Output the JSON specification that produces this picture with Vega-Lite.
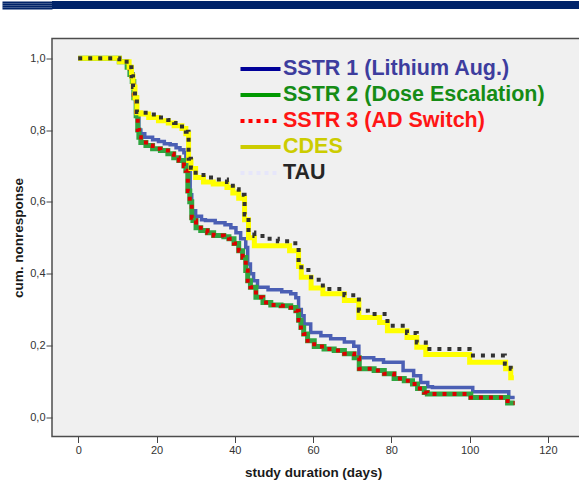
{
  "$schema": "https://vega.github.io/schema/vega-lite/v6.json",
  "padding": 0,
  "background": "white",
  "spacing": 27.5,
  "columns": 1,
  "align": "none",
  "config": {"font": "Liberation Sans"},
  "datasets": {
    "km": [
      {"series": "SSTR 1 (Lithium Aug.)", "day": 0, "value": 1.0},
      {"series": "SSTR 1 (Lithium Aug.)", "day": 10.5, "value": 0.99},
      {"series": "SSTR 1 (Lithium Aug.)", "day": 12.5, "value": 0.975},
      {"series": "SSTR 1 (Lithium Aug.)", "day": 13.2, "value": 0.955},
      {"series": "SSTR 1 (Lithium Aug.)", "day": 13.8, "value": 0.935},
      {"series": "SSTR 1 (Lithium Aug.)", "day": 14.2, "value": 0.89},
      {"series": "SSTR 1 (Lithium Aug.)", "day": 14.8, "value": 0.845},
      {"series": "SSTR 1 (Lithium Aug.)", "day": 15.5, "value": 0.8},
      {"series": "SSTR 1 (Lithium Aug.)", "day": 16, "value": 0.79},
      {"series": "SSTR 1 (Lithium Aug.)", "day": 17, "value": 0.78},
      {"series": "SSTR 1 (Lithium Aug.)", "day": 19, "value": 0.773},
      {"series": "SSTR 1 (Lithium Aug.)", "day": 20.5, "value": 0.768},
      {"series": "SSTR 1 (Lithium Aug.)", "day": 22, "value": 0.762},
      {"series": "SSTR 1 (Lithium Aug.)", "day": 23.5, "value": 0.759},
      {"series": "SSTR 1 (Lithium Aug.)", "day": 25, "value": 0.751},
      {"series": "SSTR 1 (Lithium Aug.)", "day": 26, "value": 0.745},
      {"series": "SSTR 1 (Lithium Aug.)", "day": 27, "value": 0.737},
      {"series": "SSTR 1 (Lithium Aug.)", "day": 27.5, "value": 0.723},
      {"series": "SSTR 1 (Lithium Aug.)", "day": 28, "value": 0.706},
      {"series": "SSTR 1 (Lithium Aug.)", "day": 28.3, "value": 0.69},
      {"series": "SSTR 1 (Lithium Aug.)", "day": 28.6, "value": 0.62},
      {"series": "SSTR 1 (Lithium Aug.)", "day": 29, "value": 0.575},
      {"series": "SSTR 1 (Lithium Aug.)", "day": 30, "value": 0.56},
      {"series": "SSTR 1 (Lithium Aug.)", "day": 31.5, "value": 0.55},
      {"series": "SSTR 1 (Lithium Aug.)", "day": 32.5, "value": 0.548},
      {"series": "SSTR 1 (Lithium Aug.)", "day": 35, "value": 0.542},
      {"series": "SSTR 1 (Lithium Aug.)", "day": 37.5, "value": 0.536},
      {"series": "SSTR 1 (Lithium Aug.)", "day": 39, "value": 0.528},
      {"series": "SSTR 1 (Lithium Aug.)", "day": 40.3, "value": 0.514},
      {"series": "SSTR 1 (Lithium Aug.)", "day": 41.5, "value": 0.497},
      {"series": "SSTR 1 (Lithium Aug.)", "day": 42.8, "value": 0.473},
      {"series": "SSTR 1 (Lithium Aug.)", "day": 43.3, "value": 0.427},
      {"series": "SSTR 1 (Lithium Aug.)", "day": 44, "value": 0.4},
      {"series": "SSTR 1 (Lithium Aug.)", "day": 44.8, "value": 0.38},
      {"series": "SSTR 1 (Lithium Aug.)", "day": 45.8, "value": 0.362},
      {"series": "SSTR 1 (Lithium Aug.)", "day": 48.5, "value": 0.355},
      {"series": "SSTR 1 (Lithium Aug.)", "day": 52, "value": 0.35},
      {"series": "SSTR 1 (Lithium Aug.)", "day": 54.3, "value": 0.344},
      {"series": "SSTR 1 (Lithium Aug.)", "day": 55.6, "value": 0.333},
      {"series": "SSTR 1 (Lithium Aug.)", "day": 56.3, "value": 0.3},
      {"series": "SSTR 1 (Lithium Aug.)", "day": 57, "value": 0.283},
      {"series": "SSTR 1 (Lithium Aug.)", "day": 57.7, "value": 0.26},
      {"series": "SSTR 1 (Lithium Aug.)", "day": 59.4, "value": 0.236},
      {"series": "SSTR 1 (Lithium Aug.)", "day": 62, "value": 0.227},
      {"series": "SSTR 1 (Lithium Aug.)", "day": 64.5, "value": 0.219},
      {"series": "SSTR 1 (Lithium Aug.)", "day": 68, "value": 0.21},
      {"series": "SSTR 1 (Lithium Aug.)", "day": 70.4, "value": 0.198},
      {"series": "SSTR 1 (Lithium Aug.)", "day": 71.7, "value": 0.166},
      {"series": "SSTR 1 (Lithium Aug.)", "day": 75.5, "value": 0.16},
      {"series": "SSTR 1 (Lithium Aug.)", "day": 78, "value": 0.153},
      {"series": "SSTR 1 (Lithium Aug.)", "day": 83, "value": 0.13},
      {"series": "SSTR 1 (Lithium Aug.)", "day": 85.7, "value": 0.116},
      {"series": "SSTR 1 (Lithium Aug.)", "day": 87.5, "value": 0.097},
      {"series": "SSTR 1 (Lithium Aug.)", "day": 89.3, "value": 0.085},
      {"series": "SSTR 1 (Lithium Aug.)", "day": 90.5, "value": 0.083},
      {"series": "SSTR 1 (Lithium Aug.)", "day": 100.8, "value": 0.071},
      {"series": "SSTR 1 (Lithium Aug.)", "day": 110, "value": 0.055},
      {"series": "SSTR 1 (Lithium Aug.)", "day": 111.5, "value": 0.055},

      {"series": "SSTR 2 (Dose Escalation)", "day": 0, "value": 1.0},
      {"series": "SSTR 2 (Dose Escalation)", "day": 10.5, "value": 0.99},
      {"series": "SSTR 2 (Dose Escalation)", "day": 12.5, "value": 0.975},
      {"series": "SSTR 2 (Dose Escalation)", "day": 13.2, "value": 0.955},
      {"series": "SSTR 2 (Dose Escalation)", "day": 13.8, "value": 0.935},
      {"series": "SSTR 2 (Dose Escalation)", "day": 14.2, "value": 0.89},
      {"series": "SSTR 2 (Dose Escalation)", "day": 14.8, "value": 0.84},
      {"series": "SSTR 2 (Dose Escalation)", "day": 15.2, "value": 0.8},
      {"series": "SSTR 2 (Dose Escalation)", "day": 15.5, "value": 0.78},
      {"series": "SSTR 2 (Dose Escalation)", "day": 16, "value": 0.765},
      {"series": "SSTR 2 (Dose Escalation)", "day": 17.3, "value": 0.757},
      {"series": "SSTR 2 (Dose Escalation)", "day": 19, "value": 0.748},
      {"series": "SSTR 2 (Dose Escalation)", "day": 21, "value": 0.743},
      {"series": "SSTR 2 (Dose Escalation)", "day": 22.9, "value": 0.734},
      {"series": "SSTR 2 (Dose Escalation)", "day": 24.4, "value": 0.723},
      {"series": "SSTR 2 (Dose Escalation)", "day": 25.7, "value": 0.715},
      {"series": "SSTR 2 (Dose Escalation)", "day": 27, "value": 0.7},
      {"series": "SSTR 2 (Dose Escalation)", "day": 27.5, "value": 0.687},
      {"series": "SSTR 2 (Dose Escalation)", "day": 28, "value": 0.63},
      {"series": "SSTR 2 (Dose Escalation)", "day": 28.5, "value": 0.6},
      {"series": "SSTR 2 (Dose Escalation)", "day": 29, "value": 0.556},
      {"series": "SSTR 2 (Dose Escalation)", "day": 29.3, "value": 0.548},
      {"series": "SSTR 2 (Dose Escalation)", "day": 30.1, "value": 0.528},
      {"series": "SSTR 2 (Dose Escalation)", "day": 31.3, "value": 0.52},
      {"series": "SSTR 2 (Dose Escalation)", "day": 33, "value": 0.514},
      {"series": "SSTR 2 (Dose Escalation)", "day": 34.6, "value": 0.506},
      {"series": "SSTR 2 (Dose Escalation)", "day": 37.2, "value": 0.503},
      {"series": "SSTR 2 (Dose Escalation)", "day": 38.5, "value": 0.497},
      {"series": "SSTR 2 (Dose Escalation)", "day": 39.8, "value": 0.484},
      {"series": "SSTR 2 (Dose Escalation)", "day": 41, "value": 0.464},
      {"series": "SSTR 2 (Dose Escalation)", "day": 42, "value": 0.445},
      {"series": "SSTR 2 (Dose Escalation)", "day": 42.8, "value": 0.409},
      {"series": "SSTR 2 (Dose Escalation)", "day": 43.3, "value": 0.38},
      {"series": "SSTR 2 (Dose Escalation)", "day": 44, "value": 0.362},
      {"series": "SSTR 2 (Dose Escalation)", "day": 45.4, "value": 0.334},
      {"series": "SSTR 2 (Dose Escalation)", "day": 47.2, "value": 0.32},
      {"series": "SSTR 2 (Dose Escalation)", "day": 49.2, "value": 0.313},
      {"series": "SSTR 2 (Dose Escalation)", "day": 51.8, "value": 0.311},
      {"series": "SSTR 2 (Dose Escalation)", "day": 54.3, "value": 0.306},
      {"series": "SSTR 2 (Dose Escalation)", "day": 55.6, "value": 0.297},
      {"series": "SSTR 2 (Dose Escalation)", "day": 56.3, "value": 0.27},
      {"series": "SSTR 2 (Dose Escalation)", "day": 56.9, "value": 0.25},
      {"series": "SSTR 2 (Dose Escalation)", "day": 57.6, "value": 0.232},
      {"series": "SSTR 2 (Dose Escalation)", "day": 58.6, "value": 0.213},
      {"series": "SSTR 2 (Dose Escalation)", "day": 60.3, "value": 0.197},
      {"series": "SSTR 2 (Dose Escalation)", "day": 62.8, "value": 0.19},
      {"series": "SSTR 2 (Dose Escalation)", "day": 65.4, "value": 0.186},
      {"series": "SSTR 2 (Dose Escalation)", "day": 68, "value": 0.177},
      {"series": "SSTR 2 (Dose Escalation)", "day": 70.5, "value": 0.166},
      {"series": "SSTR 2 (Dose Escalation)", "day": 71.8, "value": 0.135},
      {"series": "SSTR 2 (Dose Escalation)", "day": 75.6, "value": 0.13},
      {"series": "SSTR 2 (Dose Escalation)", "day": 78.2, "value": 0.121},
      {"series": "SSTR 2 (Dose Escalation)", "day": 80.7, "value": 0.108},
      {"series": "SSTR 2 (Dose Escalation)", "day": 83.3, "value": 0.102},
      {"series": "SSTR 2 (Dose Escalation)", "day": 85.4, "value": 0.093},
      {"series": "SSTR 2 (Dose Escalation)", "day": 86.7, "value": 0.08},
      {"series": "SSTR 2 (Dose Escalation)", "day": 88.4, "value": 0.069},
      {"series": "SSTR 2 (Dose Escalation)", "day": 89.2, "value": 0.065},
      {"series": "SSTR 2 (Dose Escalation)", "day": 100.3, "value": 0.055},
      {"series": "SSTR 2 (Dose Escalation)", "day": 109.7, "value": 0.04},
      {"series": "SSTR 2 (Dose Escalation)", "day": 111.5, "value": 0.04},

      {"series": "SSTR 3 (AD Switch)", "day": 0, "value": 1.0},
      {"series": "SSTR 3 (AD Switch)", "day": 10.5, "value": 0.99},
      {"series": "SSTR 3 (AD Switch)", "day": 12.5, "value": 0.975},
      {"series": "SSTR 3 (AD Switch)", "day": 13.2, "value": 0.955},
      {"series": "SSTR 3 (AD Switch)", "day": 13.8, "value": 0.935},
      {"series": "SSTR 3 (AD Switch)", "day": 14.2, "value": 0.89},
      {"series": "SSTR 3 (AD Switch)", "day": 14.8, "value": 0.84},
      {"series": "SSTR 3 (AD Switch)", "day": 15.2, "value": 0.8},
      {"series": "SSTR 3 (AD Switch)", "day": 15.5, "value": 0.78},
      {"series": "SSTR 3 (AD Switch)", "day": 16, "value": 0.765},
      {"series": "SSTR 3 (AD Switch)", "day": 17.3, "value": 0.757},
      {"series": "SSTR 3 (AD Switch)", "day": 19, "value": 0.748},
      {"series": "SSTR 3 (AD Switch)", "day": 21, "value": 0.743},
      {"series": "SSTR 3 (AD Switch)", "day": 22.9, "value": 0.734},
      {"series": "SSTR 3 (AD Switch)", "day": 24.4, "value": 0.723},
      {"series": "SSTR 3 (AD Switch)", "day": 25.7, "value": 0.715},
      {"series": "SSTR 3 (AD Switch)", "day": 27, "value": 0.7},
      {"series": "SSTR 3 (AD Switch)", "day": 27.5, "value": 0.687},
      {"series": "SSTR 3 (AD Switch)", "day": 28, "value": 0.63},
      {"series": "SSTR 3 (AD Switch)", "day": 28.5, "value": 0.6},
      {"series": "SSTR 3 (AD Switch)", "day": 29, "value": 0.556},
      {"series": "SSTR 3 (AD Switch)", "day": 29.3, "value": 0.548},
      {"series": "SSTR 3 (AD Switch)", "day": 30.1, "value": 0.528},
      {"series": "SSTR 3 (AD Switch)", "day": 31.3, "value": 0.52},
      {"series": "SSTR 3 (AD Switch)", "day": 33, "value": 0.514},
      {"series": "SSTR 3 (AD Switch)", "day": 34.6, "value": 0.506},
      {"series": "SSTR 3 (AD Switch)", "day": 37.2, "value": 0.503},
      {"series": "SSTR 3 (AD Switch)", "day": 38.5, "value": 0.497},
      {"series": "SSTR 3 (AD Switch)", "day": 39.8, "value": 0.484},
      {"series": "SSTR 3 (AD Switch)", "day": 41, "value": 0.464},
      {"series": "SSTR 3 (AD Switch)", "day": 42, "value": 0.445},
      {"series": "SSTR 3 (AD Switch)", "day": 42.8, "value": 0.409},
      {"series": "SSTR 3 (AD Switch)", "day": 43.3, "value": 0.38},
      {"series": "SSTR 3 (AD Switch)", "day": 44, "value": 0.362},
      {"series": "SSTR 3 (AD Switch)", "day": 45.4, "value": 0.334},
      {"series": "SSTR 3 (AD Switch)", "day": 47.2, "value": 0.32},
      {"series": "SSTR 3 (AD Switch)", "day": 49.2, "value": 0.313},
      {"series": "SSTR 3 (AD Switch)", "day": 51.8, "value": 0.311},
      {"series": "SSTR 3 (AD Switch)", "day": 54.3, "value": 0.306},
      {"series": "SSTR 3 (AD Switch)", "day": 55.6, "value": 0.297},
      {"series": "SSTR 3 (AD Switch)", "day": 56.3, "value": 0.27},
      {"series": "SSTR 3 (AD Switch)", "day": 56.9, "value": 0.25},
      {"series": "SSTR 3 (AD Switch)", "day": 57.6, "value": 0.232},
      {"series": "SSTR 3 (AD Switch)", "day": 58.6, "value": 0.213},
      {"series": "SSTR 3 (AD Switch)", "day": 60.3, "value": 0.197},
      {"series": "SSTR 3 (AD Switch)", "day": 62.8, "value": 0.19},
      {"series": "SSTR 3 (AD Switch)", "day": 65.4, "value": 0.186},
      {"series": "SSTR 3 (AD Switch)", "day": 68, "value": 0.177},
      {"series": "SSTR 3 (AD Switch)", "day": 70.5, "value": 0.166},
      {"series": "SSTR 3 (AD Switch)", "day": 71.8, "value": 0.135},
      {"series": "SSTR 3 (AD Switch)", "day": 75.6, "value": 0.13},
      {"series": "SSTR 3 (AD Switch)", "day": 78.2, "value": 0.121},
      {"series": "SSTR 3 (AD Switch)", "day": 80.7, "value": 0.108},
      {"series": "SSTR 3 (AD Switch)", "day": 83.3, "value": 0.102},
      {"series": "SSTR 3 (AD Switch)", "day": 85.4, "value": 0.093},
      {"series": "SSTR 3 (AD Switch)", "day": 86.7, "value": 0.08},
      {"series": "SSTR 3 (AD Switch)", "day": 88.4, "value": 0.069},
      {"series": "SSTR 3 (AD Switch)", "day": 89.2, "value": 0.065},
      {"series": "SSTR 3 (AD Switch)", "day": 100.3, "value": 0.055},
      {"series": "SSTR 3 (AD Switch)", "day": 109.7, "value": 0.04},
      {"series": "SSTR 3 (AD Switch)", "day": 111.5, "value": 0.04},

      {"series": "CDES", "day": 0, "value": 1.0},
      {"series": "CDES", "day": 10.5, "value": 0.99},
      {"series": "CDES", "day": 13, "value": 0.975},
      {"series": "CDES", "day": 13.6, "value": 0.95},
      {"series": "CDES", "day": 14, "value": 0.92},
      {"series": "CDES", "day": 14.5, "value": 0.89},
      {"series": "CDES", "day": 15, "value": 0.848},
      {"series": "CDES", "day": 16, "value": 0.845},
      {"series": "CDES", "day": 18, "value": 0.835},
      {"series": "CDES", "day": 20.5, "value": 0.826},
      {"series": "CDES", "day": 23, "value": 0.82},
      {"series": "CDES", "day": 24.5, "value": 0.812},
      {"series": "CDES", "day": 26.5, "value": 0.804},
      {"series": "CDES", "day": 27.5, "value": 0.79},
      {"series": "CDES", "day": 28.2, "value": 0.715},
      {"series": "CDES", "day": 28.8, "value": 0.693},
      {"series": "CDES", "day": 30, "value": 0.668},
      {"series": "CDES", "day": 32, "value": 0.655},
      {"series": "CDES", "day": 34.5, "value": 0.65},
      {"series": "CDES", "day": 38, "value": 0.64},
      {"series": "CDES", "day": 39.5, "value": 0.625},
      {"series": "CDES", "day": 41, "value": 0.61},
      {"series": "CDES", "day": 42.5, "value": 0.55},
      {"series": "CDES", "day": 43.5, "value": 0.5},
      {"series": "CDES", "day": 45, "value": 0.478},
      {"series": "CDES", "day": 54, "value": 0.464},
      {"series": "CDES", "day": 56.3, "value": 0.42},
      {"series": "CDES", "day": 57, "value": 0.39},
      {"series": "CDES", "day": 59.5, "value": 0.36},
      {"series": "CDES", "day": 62.5, "value": 0.344},
      {"series": "CDES", "day": 68, "value": 0.325},
      {"series": "CDES", "day": 71.7, "value": 0.278},
      {"series": "CDES", "day": 77, "value": 0.264},
      {"series": "CDES", "day": 79, "value": 0.241},
      {"series": "CDES", "day": 84, "value": 0.222},
      {"series": "CDES", "day": 86.5, "value": 0.195},
      {"series": "CDES", "day": 88.8, "value": 0.175},
      {"series": "CDES", "day": 100, "value": 0.153},
      {"series": "CDES", "day": 109.2, "value": 0.135},
      {"series": "CDES", "day": 110.5, "value": 0.11},
      {"series": "CDES", "day": 111.3, "value": 0.11},

      {"series": "TAU", "day": 0, "value": 1.0},
      {"series": "TAU", "day": 10.5, "value": 0.99},
      {"series": "TAU", "day": 13, "value": 0.975},
      {"series": "TAU", "day": 13.6, "value": 0.95},
      {"series": "TAU", "day": 14, "value": 0.92},
      {"series": "TAU", "day": 14.5, "value": 0.89},
      {"series": "TAU", "day": 15, "value": 0.85},
      {"series": "TAU", "day": 16, "value": 0.848},
      {"series": "TAU", "day": 18, "value": 0.843},
      {"series": "TAU", "day": 20.5, "value": 0.835},
      {"series": "TAU", "day": 23, "value": 0.828},
      {"series": "TAU", "day": 24.5, "value": 0.82},
      {"series": "TAU", "day": 26.5, "value": 0.81},
      {"series": "TAU", "day": 27.5, "value": 0.795},
      {"series": "TAU", "day": 28.2, "value": 0.72},
      {"series": "TAU", "day": 28.8, "value": 0.695},
      {"series": "TAU", "day": 30, "value": 0.675},
      {"series": "TAU", "day": 32, "value": 0.668},
      {"series": "TAU", "day": 34.5, "value": 0.662},
      {"series": "TAU", "day": 38, "value": 0.655},
      {"series": "TAU", "day": 39.5, "value": 0.635},
      {"series": "TAU", "day": 41, "value": 0.62},
      {"series": "TAU", "day": 42.5, "value": 0.565},
      {"series": "TAU", "day": 43.5, "value": 0.515},
      {"series": "TAU", "day": 45, "value": 0.505},
      {"series": "TAU", "day": 48, "value": 0.497},
      {"series": "TAU", "day": 51, "value": 0.49},
      {"series": "TAU", "day": 54, "value": 0.485},
      {"series": "TAU", "day": 56.3, "value": 0.43},
      {"series": "TAU", "day": 57, "value": 0.41},
      {"series": "TAU", "day": 59.5, "value": 0.383},
      {"series": "TAU", "day": 62.5, "value": 0.357},
      {"series": "TAU", "day": 68, "value": 0.34},
      {"series": "TAU", "day": 71.7, "value": 0.297},
      {"series": "TAU", "day": 74, "value": 0.288},
      {"series": "TAU", "day": 79, "value": 0.255},
      {"series": "TAU", "day": 84, "value": 0.235},
      {"series": "TAU", "day": 86.5, "value": 0.208},
      {"series": "TAU", "day": 88.8, "value": 0.19},
      {"series": "TAU", "day": 100, "value": 0.172},
      {"series": "TAU", "day": 109, "value": 0.149},
      {"series": "TAU", "day": 110.5, "value": 0.135},
      {"series": "TAU", "day": 111.5, "value": 0.135}
    ]
  },
  "concat": [
    {
      "width": 528,
      "height": 8,
      "data": {"values": [{}]},
      "view": {"fill": "#002369", "stroke": null},
      "mark": {"type": "rect", "color": "#002369"},
      "encoding": {
        "y": {
          "datum": 0, "type": "quantitative",
          "scale": {"domain": [0, 1], "nice": false, "zero": false},
          "axis": {
            "values": [0.14, 0.38, 0.62, 0.86], "labels": false, "domain": false, "grid": false, "title": null,
            "ticks": true, "tickSize": 50, "tickWidth": 2.1, "tickColor": "#002369", "tickCap": "butt"
          }
        },
        "y2": {"datum": 1}
      }
    },
    {
      "width": 528,
      "height": 398,
      "view": {"fill": "#f0f0f0", "stroke": "#4d4d4d", "strokeWidth": 1.5, "strokeDash": [528, 398, 926, 10]},
      "data": {"name": "km"},
      "encoding": {
        "x": {
          "field": "day", "type": "quantitative",
          "scale": {"domain": [-6.7, 128.2], "nice": false, "zero": false},
          "axis": {
            "title": "study duration (days)",
            "values": [0, 20, 40, 60, 80, 100, 120],
            "grid": false, "domain": false,
            "tickSize": 6, "tickColor": "#444444",
            "labelPadding": 2, "labelFontSize": 11, "labelColor": "#333333", "labelFlush": false,
            "titleFontSize": 13.5, "titleFontWeight": "bold", "titleColor": "#1a1a1a",
            "titlePadding": 10, "titleX": 261
          }
        },
        "y": {
          "field": "value", "type": "quantitative",
          "scale": {"domain": [-0.0535, 1.055], "nice": false, "zero": false},
          "axis": {
            "title": "cum. nonresponse",
            "values": [0, 0.2, 0.4, 0.6, 0.8, 1.0],
            "labelExpr": "replace(format(datum.value, '.1f'), '.', ',')",
            "grid": false, "domain": false,
            "tickSize": 6, "tickColor": "#444444",
            "labelPadding": 1, "labelFontSize": 11, "labelColor": "#333333",
            "titleFontSize": 13.5, "titleFontWeight": "bold", "titleColor": "#1a1a1a",
            "titlePadding": 4
          }
        },
        "order": {"field": "day", "type": "quantitative"}
      },
      "layer": [
        {
          "mark": {"type": "line", "interpolate": "step-after", "strokeWidth": 0.3},
          "encoding": {
            "color": {
              "field": "series", "type": "nominal",
              "scale": {
                "domain": ["SSTR 1 (Lithium Aug.)", "SSTR 2 (Dose Escalation)", "SSTR 3 (AD Switch)", "CDES", "TAU"],
                "range": ["#000099", "#009900", "#ff0000", "#cccc00", "#e6e6fa"]
              },
              "legend": {
                "title": null,
                "orient": "none",
                "legendX": 194,
                "legendY": 53.5,
                "padding": 0,
                "symbolType": "M-1.6,0H1.6",
                "symbolSize": 625,
                "symbolStrokeWidth": 4,
                "labelFont": "Liberation Sans",
                "labelFontSize": 21.5,
                "labelFontWeight": "bold",
                "labelOffset": 8,
                "labelLimit": 400,
                "rowPadding": 1,
                "encode": {
                  "labels": {
                    "update": {
                      "fill": {"signal": "datum.value === 'SSTR 1 (Lithium Aug.)' ? '#3d3d9e' : datum.value === 'SSTR 2 (Dose Escalation)' ? '#168c16' : datum.value === 'SSTR 3 (AD Switch)' ? '#ff1515' : datum.value === 'CDES' ? '#cccc00' : '#262626'"}
                    }
                  }
                }
              }
            },
            "strokeDash": {
              "field": "series", "type": "nominal",
              "scale": {
                "domain": ["SSTR 1 (Lithium Aug.)", "SSTR 2 (Dose Escalation)", "SSTR 3 (AD Switch)", "CDES", "TAU"],
                "range": [[1, 0], [1, 0], [4, 4], [1, 0], [4, 4]]
              },
              "legend": {"title": null}
            }
          }
        },
        {
          "transform": [{"filter": "datum.series === 'SSTR 1 (Lithium Aug.)'"}],
          "mark": {"type": "line", "interpolate": "step-after", "color": "#4b5fb4", "strokeWidth": 3.5}
        },
        {
          "transform": [{"filter": "datum.series === 'SSTR 2 (Dose Escalation)'"}],
          "mark": {"type": "line", "interpolate": "step-after", "color": "#2fa640", "strokeWidth": 5}
        },
        {
          "transform": [{"filter": "datum.series === 'SSTR 3 (AD Switch)'"}],
          "mark": {"type": "line", "interpolate": "step-after", "color": "#dd0000", "strokeWidth": 4, "strokeDash": [4, 6], "strokeCap": "butt"}
        },
        {
          "transform": [{"filter": "datum.series === 'CDES'"}],
          "mark": {"type": "line", "interpolate": "step-after", "color": "#ffff00", "strokeWidth": 5}
        },
        {
          "transform": [{"filter": "datum.series === 'TAU'"}],
          "mark": {"type": "line", "interpolate": "step-after", "color": "#333333", "strokeWidth": 4, "strokeDash": [4, 6], "strokeCap": "butt"}
        }
      ]
    }
  ]
}
